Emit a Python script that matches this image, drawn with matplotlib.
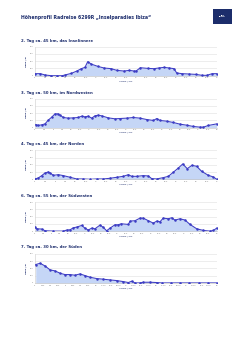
import matplotlib
matplotlib.use("Agg")
import matplotlib.pyplot as plt
from matplotlib.patches import Rectangle
import numpy as np

W, H = 250, 353
title = "Höhenprofil Radreise 6299R „Inselparadies Ibiza“"
headings = [
    "2. Tag ca. 45 km, das Inselinnere",
    "3. Tag ca. 50 km, im Nordwesten",
    "4. Tag ca. 45 km, der Norden",
    "6. Tag ca. 55 km, der Südwesten",
    "7. Tag ca. 30 km, der Süden",
]
lengths = [45, 50, 45, 55, 30]
xsteps = [2.5, 2.5, 2.5, 2.5, 1.25]
yticks = [0, 100, 200, 300, 400]
xlabel = "Länge / km"
ylabel = "Höhe / m"

# position along route as fraction of total length, elevation in m
d1_frac = [0.00, 0.03, 0.055, 0.09, 0.12, 0.15, 0.165, 0.2, 0.23, 0.255, 0.275, 0.29, 0.31, 0.345,
           0.38, 0.42, 0.45, 0.49, 0.52, 0.545, 0.556, 0.58, 0.62, 0.655, 0.68, 0.71, 0.74, 0.765,
           0.78, 0.81, 0.85, 0.885, 0.92, 0.945, 0.975, 1.0]
d1_elev = [28, 28, 10, 0, 0, 0, 10, 32, 64, 97, 115, 193, 160, 129, 106, 97, 74, 64, 74,
           64, 64, 110, 101, 97, 106, 115, 106, 97, 37, 28, 23, 18, 5, 5, 28, 28]

d2_frac = [0.004, 0.018, 0.037, 0.055, 0.073, 0.092, 0.11, 0.125, 0.138, 0.156, 0.183, 0.211,
           0.238, 0.257, 0.275, 0.293, 0.312, 0.33, 0.348, 0.367, 0.403, 0.44, 0.468, 0.505,
           0.541, 0.578, 0.615, 0.652, 0.67, 0.688, 0.725, 0.761, 0.798, 0.835, 0.872, 0.908,
           0.927, 0.954, 1.0]
d2_elev = [41, 28, 37, 50, 101, 143, 188, 188, 170, 138, 129, 133, 138, 156, 147, 156, 129,
           161, 170, 161, 133, 120, 124, 129, 138, 129, 110, 97, 124, 97, 87, 69, 46, 32, 14,
           5, 5, 28, 50]

d3_frac = [0.0, 0.018, 0.037, 0.055, 0.073, 0.083, 0.101, 0.128, 0.156, 0.193, 0.229, 0.266,
           0.303, 0.339, 0.376, 0.413, 0.45, 0.486, 0.514, 0.532, 0.56, 0.596, 0.624, 0.642,
           0.67, 0.706, 0.734, 0.761, 0.789, 0.813, 0.838, 0.864, 0.89, 0.917, 0.954, 0.982, 1.0]
d3_elev = [5, 18, 51, 87, 101, 87, 55, 64, 51, 28, 5, 5, 0, 5, 5, 14, 28, 41, 64, 41, 41, 51,
           46, 9, 5, 23, 41, 97, 156, 211, 147, 193, 179, 110, 55, 32, 0]

d4_frac = [0.0, 0.009, 0.037, 0.055, 0.101, 0.156, 0.174, 0.193, 0.211, 0.229, 0.257, 0.275,
           0.293, 0.312, 0.33, 0.358, 0.376, 0.394, 0.413, 0.44, 0.457, 0.475, 0.514, 0.523,
           0.55, 0.578, 0.596, 0.624, 0.651, 0.67, 0.688, 0.706, 0.734, 0.752, 0.77, 0.798,
           0.826, 0.853, 0.89, 0.927, 0.963, 0.982, 1.0]
d4_elev = [55, 32, 28, 5, 0, 0, 14, 18, 46, 55, 78, 41, 14, 41, 32, 83, 51, 5, 41, 87, 87,
           101, 92, 138, 143, 179, 179, 143, 110, 138, 129, 179, 170, 184, 152, 170, 152, 92,
           32, 9, 0, 9, 41]

d5_frac = [0.004, 0.028, 0.055, 0.083, 0.11, 0.138, 0.165, 0.193, 0.22, 0.248, 0.275, 0.303,
           0.339, 0.376, 0.413, 0.45, 0.486, 0.514, 0.532, 0.55, 0.578, 0.596, 0.633, 0.67,
           0.697, 0.75, 0.8, 0.85, 0.9, 0.95, 1.0]
d5_elev = [253, 271, 234, 179, 166, 133, 115, 115, 106, 124, 101, 78, 60, 51, 41, 32, 18, 5,
           23, 0, 0, 9, 9, 5, 0, 0, 0, 0, 0, 0, 0]

fracs = [d1_frac, d2_frac, d3_frac, d4_frac, d5_frac]
elevs = [d1_elev, d2_elev, d3_elev, d4_elev, d5_elev]

navy = "#1f2f6e"
line_c = "#3c3cc4"
fill_c = "#c5d6f6"
grid_c = "#e0e0e0"

fig = plt.figure(figsize=(W / 100, H / 100), dpi=100)
fig.patch.set_facecolor("white")

def fx(px):
    return px / W

def fy(py):
    return 1 - py / H

fig.text(fx(21), fy(17), title, fontsize=3.3, fontweight="bold", color=navy,
         va="center", ha="left")

# logo
fig.patches.append(Rectangle((fx(213), fy(24)), fx(232) - fx(213), (24 - 9) / H,
                             transform=fig.transFigure, facecolor="#1c2d6b",
                             edgecolor="none"))
fig.text(fx(222.5), fy(16), "Rad\nReisen", fontsize=1.3, color="white",
         ha="center", va="center", fontweight="bold", linespacing=0.9)

left_px, right_px = 35, 216.7
for i in range(5):
    top_px = 46.7 + 51.8 * i
    base_px = 75.7 + 51.8 * i
    fig.text(fx(21), fy(41 + 51.6 * i), headings[i], fontsize=2.8,
             fontweight="bold", color=navy, va="center", ha="left")
    ax = fig.add_axes([fx(left_px), fy(base_px), fx(right_px) - fx(left_px),
                       (base_px - top_px) / H])
    L = lengths[i]
    x = np.array(fracs[i]) * L
    y = np.array(elevs[i])
    ax.fill_between(x, 0, y, color=fill_c, lw=0, zorder=1)
    ax.plot(x, y, color=line_c, lw=0.75, marker="o", ms=0.8, zorder=3)
    ax.set_xlim(0, L)
    ax.set_ylim(0, 400)
    ax.set_yticks(yticks)
    ax.set_yticklabels([str(v) for v in yticks])
    xt = np.arange(0, L + 0.001, xsteps[i])
    ax.set_xticks(xt)
    ax.set_xticklabels([("%g" % v).replace(".", ",") for v in xt])
    ax.tick_params(labelsize=1.4, colors="#777777", length=0, pad=1.2)
    ax.grid(axis="y", color=grid_c, lw=0.4)
    ax.set_axisbelow(True)
    for s in ["top", "right"]:
        ax.spines[s].set_visible(False)
    ax.spines["left"].set_color("#cccccc")
    ax.spines["bottom"].set_color("#bbbbbb")
    ax.spines["left"].set_linewidth(0.4)
    ax.spines["bottom"].set_linewidth(0.4)
    ax.set_xlabel(xlabel, fontsize=1.7, color=navy, labelpad=1.3)
    ax.set_ylabel(ylabel, fontsize=1.5, color=navy, labelpad=2.0, fontweight="bold")

fig.savefig("out.png", dpi=100, facecolor="white")
